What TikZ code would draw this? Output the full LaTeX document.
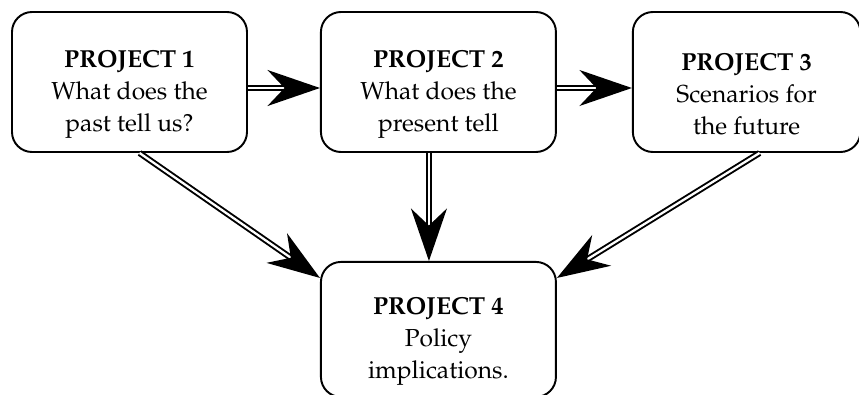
\documentclass[tikz,border=0pt]{standalone}
\usepackage[T1]{fontenc}
\usepackage{mathpazo}
\usetikzlibrary{arrows.meta,positioning}

\newcommand{\projHead}[1]{\rule{0pt}{8.2mm}\textbf{PROJECT #1}}

\tikzset{
  projBox/.style={draw, line width=1.1pt, rounded corners=0.4cm,
    minimum width=4.7cm, minimum height=2.8cm, align=center,
    font=\fontsize{14}{18.2}\selectfont},
  dblArrow/.style={draw, line width=1.1pt, double, double distance=1.3pt,
    -{Stealth[length=1.05cm, width=0.72cm]}}
}

\begin{document}
\begin{tikzpicture}
  \useasboundingbox (0,0) rectangle (17.18,-7.88);

  % the four projects
  \node[projBox] (proj1) at (2.59,-1.64)
    {\projHead{1}\\ What does the\\ past tell us?};
  \node[projBox, right=1.44cm of proj1] (proj2)
    {\projHead{2}\\ What does the\\ present tell};
  \node[projBox, minimum width=4.55cm, right=1.5cm of proj2] (proj3)
    {\projHead{3}\\ Scenarios for\\ the future};
  \node[projBox, minimum height=2.7cm, below=2.16cm of proj2] (proj4)
    {\projHead{4}\\ Policy\\ implications.};

  % links
  \draw[dblArrow] ([yshift=-1.2mm]proj1.east) -- ([yshift=-1.2mm]proj2.west);
  \draw[dblArrow] ([yshift=-1.2mm]proj2.east) -- ([yshift=-1.2mm]proj3.west);
  \draw[dblArrow] ([xshift=-1.9mm]proj2.south) -- ([xshift=-1.9mm]proj4.north);
  \draw[dblArrow] ([xshift=2mm]proj1.south) -- ([yshift=-3.4mm]proj4.north west);
  \draw[dblArrow] ([xshift=2.6mm]proj3.south) -- ([yshift=-3.4mm]proj4.north east);
\end{tikzpicture}
\end{document}
